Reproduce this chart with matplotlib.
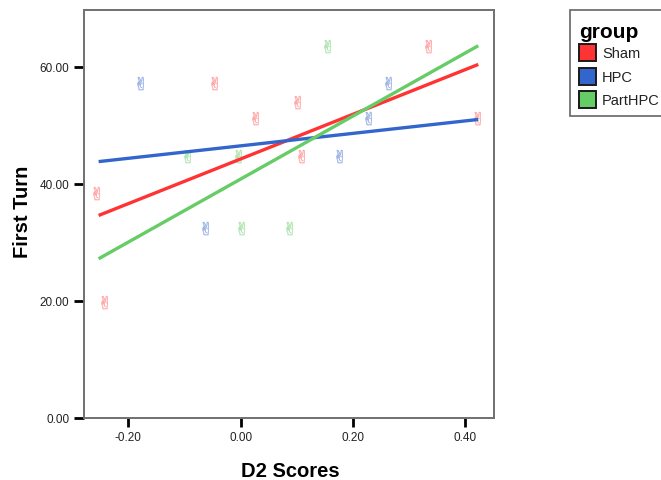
import matplotlib
matplotlib.use('Agg')
import matplotlib.pyplot as plt
from matplotlib.patches import Rectangle

plt.rcParams['font.family'] = ['Liberation Sans', 'DejaVu Sans']

groups = ['Sham', 'HPC', 'PartHPC']
line_colors = ['#ff3333', '#3366cc', '#66cc66']
dot_colors = ['#ff9a9a', '#8fa9e3', '#a3e0a3']

# scatter values per group
sham_x = [-0.258, -0.244, -0.048, 0.025, 0.100, 0.108, 0.333, 0.420]
sham_y = [38.5, 19.9, 57.3, 51.2, 53.9, 44.7, 63.5, 51.2]
hpc_x = [-0.180, -0.064, 0.175, 0.226, 0.263]
hpc_y = [57.3, 32.4, 44.7, 51.2, 57.3]
part_x = [-0.096, -0.005, 0.000, 0.086, 0.153]
part_y = [44.7, 44.7, 32.4, 32.4, 63.5]

# fit line ends per group
fit_x = [-0.253, 0.423]
sham_fit = [34.6, 60.4]
hpc_fit = [43.8, 51.0]
part_fit = [27.2, 63.6]

xticks = [-0.20, 0.00, 0.20, 0.40]
yticks = [0, 20, 40, 60]

W, H = 661, 481
fig = plt.figure(figsize=(W / 100, H / 100), dpi=100)
ax = fig.add_axes([84 / W, 1 - 419 / H, 410 / W, 408 / H])

all_x = [sham_x, hpc_x, part_x]
all_y = [sham_y, hpc_y, part_y]
all_fit = [sham_fit, hpc_fit, part_fit]
for i in range(3):
    ax.scatter(all_x[i], all_y[i], marker='$\u270c$', s=90, color=dot_colors[i],
               linewidths=0.2, zorder=2)
    ax.plot(fit_x, all_fit[i], color=line_colors[i], lw=2.4, zorder=3,
            solid_capstyle='butt')

ax.set_xlim(-0.279, 0.451)
ax.set_ylim(0, 69.7)
ax.set_xticks(xticks)
ax.set_xticklabels(['%.2f' % t for t in xticks], fontsize=8.5)
ax.set_yticks(yticks)
ax.set_yticklabels(['%.2f' % t for t in yticks], fontsize=8.5)
ax.tick_params(axis='y', length=7.5, width=2, color='black', labelcolor='#222222', pad=3)
ax.tick_params(axis='x', length=6.5, width=2, color='black', labelcolor='#222222', pad=3)
for s in ax.spines.values():
    s.set_color('#707070')
    s.set_linewidth(1.4)

fig.text(290 / W, 1 - 472 / H, 'D2 Scores', fontsize=14.5, fontweight='bold',
         ha='center', va='center')
fig.text(23 / W, 1 - 212 / H, 'First Turn', fontsize=14.5, fontweight='bold',
         rotation=90, ha='center', va='center')

# legend drawn by hand, box runs off the right edge
fig.add_artist(Rectangle((570 / W, 1 - 117 / H), 100 / W, 106 / H, transform=fig.transFigure,
                         fc='white', ec='#666666', lw=1.2, clip_on=True))
fig.text(579 / W, 1 - 33 / H, 'group', fontsize=15, fontweight='bold', ha='left',
         va='center')
for i, name in enumerate(groups):
    y = 54 + 23.5 * i
    fig.add_artist(Rectangle((579 / W, 1 - (y + 8) / H), 17 / W, 17 / H,
                             transform=fig.transFigure, fc=line_colors[i],
                             ec='#1a1a1a', lw=1.4))
    fig.text(602 / W, 1 - y / H, name, fontsize=10.5, ha='left', va='center',
             color='#222222')

fig.savefig('out.png', dpi=100)
